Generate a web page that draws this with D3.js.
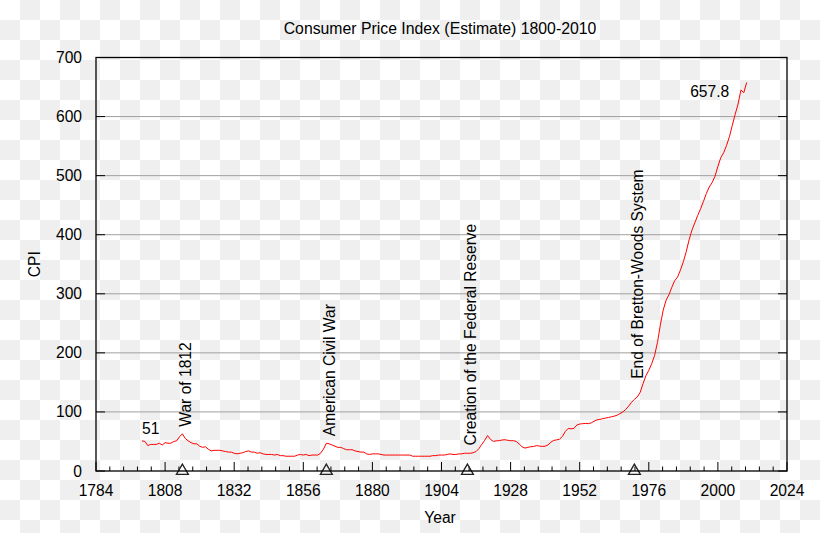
<!DOCTYPE html>
<html>
<head>
<meta charset="utf-8">
<script src="https://cdn.jsdelivr.net/npm/d3@7"></script>
<style>
html,body{margin:0;padding:0;background:#fff;}
svg{display:block;}
text{font-family:"Liberation Sans",Arial,sans-serif;fill:#000;}
</style>
</head>
<body>
<svg id="chart" width="820" height="533"></svg>
<script>
// ---- data ----
const years = d3.range(1800, 2011);
const cpi = [
 51,50,43,45,45,45,47,44,48,47, // 1800-1809
 47,50,51,58,63,55,51,48,46,46, // 1810-1819
 42,40,41,37,34,35,35,35,34,33, // 1820-1829
 32,32,30,29,30,31,33,34,32,32, // 1830-1839
 30,31,29,28,28,28,27,28,26,26, // 1840-1849
 25,25,25,25,27,28,27,28,26,27, // 1850-1859
 27,27,30,37,47,46,44,42,40,40, // 1860-1869
 38,36,36,36,34,33,32,32,29,28, // 1870-1879
 29,29,29,28,27,27,27,27,27,27, // 1880-1889
 27,27,27,27,25,25,25,25,25,25, // 1890-1899
 25,26,26,27,27,27,28,29,28,28, // 1900-1909
 29,29,30,30,30,31,33,38,45,52, // 1910-1919
 60,53.6,50.2,51.1,51.2,52.5,53.0,52.0,51.3,51.3, // 1920-1929
 50.0,45.6,40.9,38.8,40.1,41.1,41.5,43.0,42.2,41.6, // 1930-1939
 42.0,44.1,48.8,51.8,52.7,53.9,58.5,66.9,72.1,71.4, // 1940-1949
 72.1,77.8,79.5,80.1,80.5,80.2,81.4,84.3,86.6,87.3, // 1950-1959
 88.7,89.6,90.6,91.7,92.9,94.5,97.2,100,104.2,109.8, // 1960-1969
 116.3,121.3,125.3,133.1,147.7,161.2,170.5,181.5,195.4,217.4, // 1970-1979
 246.8,272.4,289.1,298.4,311.1,322.2,328.4,340.4,354.3,371.3, // 1980-1989
 391.4,408.0,420.3,432.7,444.0,456.5,469.9,480.8,488.3,499.0, // 1990-1999
 515.8,530.4,538.8,551.1,565.8,585.0,603.9,621.1,645.0,640.5, // 2000-2009
 657.8 // 2010
];
const xTickLabels = [1784,1808,1832,1856,1880,1904,1928,1952,1976,2000,2024];
const yTickLabels = [0,100,200,300,400,500,600,700];
const eventNames = ["War of 1812","American Civil War","Creation of the Federal Reserve","End of Bretton-Woods System"];
const eventYears = [1814,1864,1913,1971];
const eventLabelAt = [75,59,43,156];
const title = "Consumer Price Index (Estimate) 1800-2010";
const firstLabel = "51";
const lastLabel = "657.8";

// ---- layout ----
const W = 820, H = 533;
const L = 96, R = 787, T = 57.5, B = 471;
const svg = d3.select("#chart");

// checkerboard background
const defs = svg.append("defs");
const pat = defs.append("pattern").attr("id","checker").attr("width",40).attr("height",40)
  .attr("patternUnits","userSpaceOnUse");
pat.append("rect").attr("width",40).attr("height",40).attr("fill","#ffffff");
pat.append("rect").attr("x",20).attr("y",0).attr("width",20).attr("height",20).attr("fill","#efefef");
pat.append("rect").attr("x",0).attr("y",20).attr("width",20).attr("height",20).attr("fill","#efefef");
svg.append("rect").attr("width",W).attr("height",H).attr("fill","url(#checker)");

const x = d3.scaleLinear().domain([1784,2024]).range([L,R]);
const y = d3.scaleLinear().domain([0,700]).range([B,T]);
const FS = "15.6px";

// gridlines
svg.append("g").selectAll("line").data(yTickLabels.filter(v => v>0 && v<700)).join("line")
  .attr("x1",L).attr("x2",R).attr("y1",d=>y(d)).attr("y2",d=>y(d))
  .attr("stroke","#a0a0a0").attr("stroke-width",1);

// y ticks left & right
const yt = svg.append("g");
yt.selectAll("line.l").data(yTickLabels).join("line").attr("class","l")
  .attr("x1",L).attr("x2",L+9).attr("y1",d=>y(d)).attr("y2",d=>y(d)).attr("stroke","#000");
yt.selectAll("line.r").data(yTickLabels).join("line").attr("class","r")
  .attr("x1",R-9).attr("x2",R).attr("y1",d=>y(d)).attr("y2",d=>y(d)).attr("stroke","#000");
yt.selectAll("text").data(yTickLabels).join("text")
  .attr("x",82).attr("y",d=>y(d)+5.5).attr("text-anchor","end").style("font-size",FS).text(d=>d);

// x ticks: major every 24 years, 4 minor between
const xMinor = d3.range(0,51).map(i => 1784 + i*4.8);
svg.append("g").selectAll("line").data(xMinor).join("line")
  .attr("x1",d=>x(d)).attr("x2",d=>x(d)).attr("y1",B)
  .attr("y2",(d,i)=> i%5===0 ? B-9 : B-4.5)
  .attr("stroke","#000").attr("stroke-width",1);
svg.append("g").selectAll("text").data(xTickLabels).join("text")
  .attr("x",d=>x(d)).attr("y",496).attr("text-anchor","middle").style("font-size",FS).text(d=>d);

// CPI line
const line = d3.line().x((d,i)=>x(years[i])).y(d=>y(d));
svg.append("path").datum(cpi).attr("d",line).attr("fill","none")
  .attr("stroke","#ff0000").attr("stroke-width",1).attr("stroke-linejoin","round");

// event markers (triangles on axis)
const tri = d3.symbol().type(d3.symbolTriangle).size(62);
svg.append("g").selectAll("path").data(eventYears).join("path")
  .attr("d",tri).attr("transform",d=>`translate(${x(d)},${B})`)
  .attr("fill","none").attr("stroke","#222").attr("stroke-width",1.3);

// event labels
svg.append("g").selectAll("text").data(eventNames).join("text")
  .attr("transform",(d,i)=>`translate(${x(eventYears[i])+8.5},${y(eventLabelAt[i])}) rotate(-90)`)
  .attr("text-anchor","start").style("font-size",FS).text(d=>d);

// value labels
svg.append("text").attr("x",x(years[0])).attr("y",y(cpi[0])-6.5)
  .attr("text-anchor","start").style("font-size",FS).text(firstLabel);
svg.append("text").attr("x",x(years[years.length-1])-17.5).attr("y",y(cpi[cpi.length-1])+15)
  .attr("text-anchor","end").style("font-size",FS).text(lastLabel);

// frame
svg.append("rect").attr("x",L).attr("y",T).attr("width",R-L).attr("height",B-T)
  .attr("fill","none").attr("stroke","#000").attr("stroke-width",1.3);

// titles
svg.append("text").attr("x",440).attr("y",34).attr("text-anchor","middle").style("font-size","15.8px").text(title);
svg.append("text").attr("x",440).attr("y",523).attr("text-anchor","middle").style("font-size",FS).text("Year");
svg.append("text").attr("transform",`translate(40,${(T+B)/2}) rotate(-90)`)
  .attr("text-anchor","middle").style("font-size",FS).text("CPI");
</script>
</body>
</html>
